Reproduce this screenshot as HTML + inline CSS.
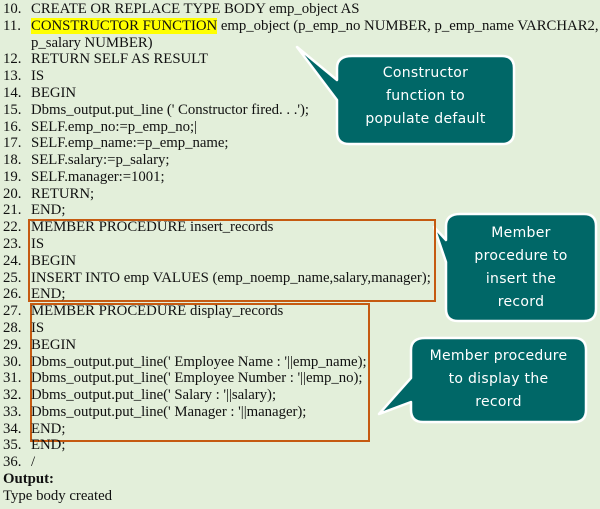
<!DOCTYPE html>
<html><head><meta charset="utf-8"><style>
html,body{margin:0;padding:0}
body{width:600px;height:509px;background:#e3efda;position:relative;overflow:hidden;font-family:"Liberation Serif",serif;font-size:14.8px;color:#111}
.l{position:absolute;left:0;white-space:nowrap;height:17px;line-height:17px}
.n{position:absolute;left:3px}
.t{position:absolute;left:31px;letter-spacing:-0.03px}
.hl{background:#ffff00}
svg{position:absolute;left:0;top:0}
.ct{position:absolute;color:#fff;font-family:"DejaVu Sans",sans-serif;font-size:14px;text-align:center;line-height:23px;letter-spacing:0.3px}
</style></head><body>
<svg width="600" height="509">
<g fill="#006767" stroke="#fff" stroke-width="2.5" stroke-linejoin="round">
<path d="M352,56 H502 Q514,56 514,68 V132 Q514,144 502,144 H349 Q337,144 337,132 V100 L297,47 L337,80 V68 Q337,56 352,56 Z"/>
<path d="M460,214 H584 Q596,214 596,226 V309 Q596,321 584,321 H458 Q446,321 446,309 V262 L434,227 L446,240 V226 Q446,214 460,214 Z"/>
<path d="M425,338 H574 Q586,338 586,350 V410 Q586,422 574,422 H423 Q411,422 411,410 V402 L379,414 L411,378 V350 Q411,338 425,338 Z"/>
</g>
<rect x="29" y="220" width="406" height="81" fill="none" stroke="#c55a11" stroke-width="2"/>
<rect x="31" y="304" width="338" height="137" fill="none" stroke="#c55a11" stroke-width="2"/>
</svg>
<div class="l" style="top:1px"><span class="n">10.</span><span class="t">CREATE OR REPLACE TYPE BODY emp_object AS</span></div>
<div class="l" style="top:18px"><span class="n">11.</span><span class="t"><span class="hl">CONSTRUCTOR FUNCTION</span> emp_object (p_emp_no NUMBER, p_emp_name VARCHAR2,</span></div>
<div class="l" style="top:35px"><span class="t">p_salary NUMBER)</span></div>
<div class="l" style="top:51px"><span class="n">12.</span><span class="t">RETURN SELF AS RESULT</span></div>
<div class="l" style="top:68px"><span class="n">13.</span><span class="t">IS</span></div>
<div class="l" style="top:85px"><span class="n">14.</span><span class="t">BEGIN</span></div>
<div class="l" style="top:102px"><span class="n">15.</span><span class="t">Dbms_output.put_line (' Constructor fired. . .');</span></div>
<div class="l" style="top:119px"><span class="n">16.</span><span class="t">SELF.emp_no:=p_emp_no;|</span></div>
<div class="l" style="top:135px"><span class="n">17.</span><span class="t">SELF.emp_name:=p_emp_name;</span></div>
<div class="l" style="top:152px"><span class="n">18.</span><span class="t">SELF.salary:=p_salary;</span></div>
<div class="l" style="top:169px"><span class="n">19.</span><span class="t">SELF.manager:=1001;</span></div>
<div class="l" style="top:186px"><span class="n">20.</span><span class="t">RETURN;</span></div>
<div class="l" style="top:202px"><span class="n">21.</span><span class="t">END;</span></div>
<div class="l" style="top:219px"><span class="n">22.</span><span class="t">MEMBER PROCEDURE insert_records</span></div>
<div class="l" style="top:236px"><span class="n">23.</span><span class="t">IS</span></div>
<div class="l" style="top:253px"><span class="n">24.</span><span class="t">BEGIN</span></div>
<div class="l" style="top:270px"><span class="n">25.</span><span class="t">INSERT INTO emp VALUES (emp_noemp_name,salary,manager);</span></div>
<div class="l" style="top:286px"><span class="n">26.</span><span class="t">END;</span></div>
<div class="l" style="top:303px"><span class="n">27.</span><span class="t">MEMBER PROCEDURE display_records</span></div>
<div class="l" style="top:320px"><span class="n">28.</span><span class="t">IS</span></div>
<div class="l" style="top:337px"><span class="n">29.</span><span class="t">BEGIN</span></div>
<div class="l" style="top:354px"><span class="n">30.</span><span class="t">Dbms_output.put_line(' Employee Name : '||emp_name);</span></div>
<div class="l" style="top:370px"><span class="n">31.</span><span class="t">Dbms_output.put_line(' Employee Number : '||emp_no);</span></div>
<div class="l" style="top:387px"><span class="n">32.</span><span class="t">Dbms_output.put_line(' Salary : '||salary);</span></div>
<div class="l" style="top:404px"><span class="n">33.</span><span class="t">Dbms_output.put_line(' Manager : '||manager);</span></div>
<div class="l" style="top:421px"><span class="n">34.</span><span class="t">END;</span></div>
<div class="l" style="top:437px"><span class="n">35.</span><span class="t">END;</span></div>
<div class="l" style="top:454px"><span class="n">36.</span><span class="t">/</span></div>
<div class="l" style="top:471px;left:3px;font-weight:bold">Output:</div>
<div class="l" style="top:488px;left:3px">Type body created</div>
<div class="ct" style="left:337px;top:62px;width:177px">Constructor<br>function to<br>populate default</div>
<div class="ct" style="left:446px;top:222px;width:150px">Member<br>procedure to<br>insert the<br>record</div>
<div class="ct" style="left:411px;top:345px;width:175px">Member procedure<br>to display the<br>record</div>
</body></html>
